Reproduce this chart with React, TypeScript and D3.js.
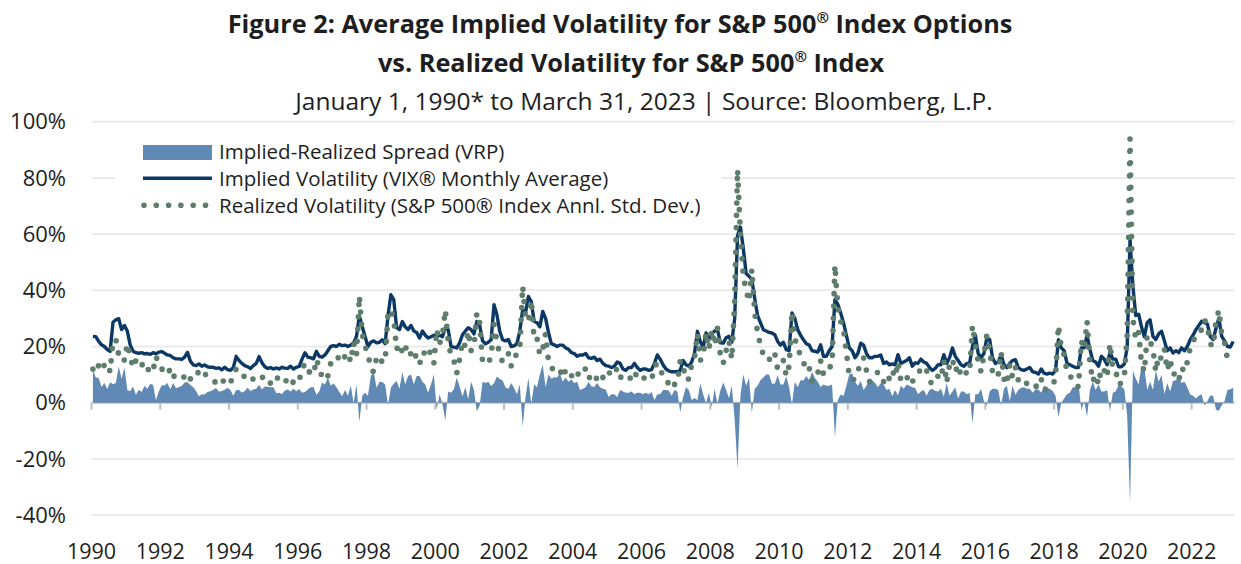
import * as React from "react";
import * as d3 from "d3";

// year labels on the category axis, one every 24 months
const yearLabels = ["1990", "1992", "1994", "1996", "1998", "2000", "2002", "2004", "2006", "2008", "2010", "2012", "2014", "2016", "2018", "2020", "2022"];
const yTicks = [100, 80, 60, 40, 20, 0, -20, -40];

// VIX monthly average, Jan 1990 .. Mar 2023
const implied: number[] = [
  23.6, 23.5, 21.8, 20.6, 20.0, 18.9, 18.3, 28.6, 29.5, 29.9, 26.0, 27.5,
  25.5, 20.6, 18.3, 17.8, 17.6, 17.8, 17.4, 17.5, 17.2, 17.8, 17.4, 18.0,
  18.2, 17.6, 17.0, 16.8, 16.0, 15.6, 15.6, 15.4, 16.2, 17.9, 14.8, 13.5,
  13.2, 13.8, 13.0, 13.4, 12.8, 12.6, 12.6, 12.2, 12.4, 11.7, 12.6, 11.8,
  11.5, 12.5, 16.5, 15.0, 14.0, 13.2, 12.8, 12.2, 13.2, 14.0, 16.4, 14.2,
  12.8, 12.2, 12.5, 12.0, 12.4, 12.0, 12.6, 12.3, 12.2, 13.0, 12.0, 12.6,
  12.9, 15.5, 17.8, 16.2, 16.0, 15.6, 18.3, 16.5, 16.2, 17.0, 18.5, 20.0,
  20.3, 20.0, 20.8, 20.3, 20.5, 20.0, 20.5, 21.3, 23.6, 31.0, 27.0, 23.5,
  20.0, 21.5, 22.0, 21.3, 21.5, 22.4, 21.0, 31.0, 38.4, 36.7, 26.7, 26.0,
  28.9, 27.0, 26.0, 27.5, 25.5, 25.0, 23.0, 25.5, 24.0, 23.0, 23.5, 24.0,
  23.6, 24.0, 23.5, 26.7, 26.0, 20.0, 19.8, 19.5, 21.3, 24.2, 25.5, 26.7,
  26.0, 24.5, 28.9, 27.5, 22.0, 21.0, 21.5, 22.4, 34.9, 31.3, 25.4, 22.4,
  22.0, 22.5, 20.0, 20.2, 21.0, 25.5, 33.0, 32.0, 37.8, 36.0, 29.0, 28.5,
  27.0, 32.5, 30.0, 25.0, 21.0, 20.6, 20.0, 20.5, 20.5, 19.5, 19.0, 17.8,
  17.5, 16.5, 17.0, 17.0, 17.5, 16.0, 15.8, 16.2, 15.0, 15.5, 14.0, 13.2,
  13.0, 12.5, 13.0, 14.5, 14.0, 12.0, 11.5, 12.5, 12.5, 14.0, 12.5, 11.5,
  12.0, 12.0, 11.5, 11.8, 14.0, 17.0, 15.5, 13.5, 12.0, 11.3, 11.0, 11.0,
  11.0, 11.5, 15.0, 13.5, 13.0, 14.5, 17.7, 25.4, 21.8, 19.5, 24.8, 22.5,
  24.5, 25.5, 26.0, 21.3, 21.2, 23.1, 23.6, 21.5, 30.0, 59.5, 62.5, 55.0,
  46.0, 45.0, 43.8, 37.0, 31.0, 28.5, 26.0, 25.5, 25.0, 24.8, 24.2, 21.8,
  20.5, 21.5, 18.9, 18.5, 31.9, 30.0, 26.0, 24.0, 22.4, 21.0, 20.5, 18.5,
  18.3, 18.0, 20.6, 16.5, 16.5, 18.5, 20.0, 36.7, 35.0, 31.9, 28.4, 24.0,
  19.5, 18.5, 16.0, 17.5, 21.2, 20.5, 17.5, 16.0, 16.0, 16.5, 16.5, 17.0,
  14.0, 14.5, 13.5, 13.8, 13.5, 17.1, 14.0, 14.5, 15.0, 16.0, 13.0, 14.2,
  14.0, 15.5, 14.5, 14.0, 12.5, 11.5, 12.2, 13.5, 13.5, 17.1, 14.0, 16.0,
  19.5, 16.5, 15.0, 13.5, 13.0, 14.0, 14.0, 20.0, 24.0, 17.5, 16.0, 17.5,
  23.0, 22.5, 16.0, 14.0, 14.5, 17.0, 13.5, 12.5, 14.0, 15.0, 15.3, 12.5,
  11.8, 11.5, 12.0, 12.5, 11.0, 10.8, 10.2, 12.0, 10.5, 10.2, 10.5, 10.2,
  11.5, 22.4, 19.5, 18.5, 14.0, 13.5, 13.0, 12.5, 12.5, 19.5, 19.5, 24.0,
  19.0, 15.0, 14.5, 13.0, 16.5, 15.5, 13.5, 18.0, 15.5, 15.5, 12.8, 12.8,
  13.8, 19.6, 58.0, 41.5, 31.0, 31.5, 27.0, 23.5, 28.5, 29.5, 23.6, 22.5,
  24.5, 25.4, 22.0, 18.5, 19.5, 17.7, 18.5, 17.8, 19.5, 18.5, 20.0, 22.4,
  24.0, 26.0, 27.5, 29.0, 28.5, 28.0, 23.6, 22.5, 26.5, 30.1, 23.6, 22.0,
  20.0, 19.8, 21.8,
];

// S&P 500 realized volatility (annualized std. dev.), same months
const realized: number[] = [
  12.0, 14.5, 13.0, 15.0, 13.0, 14.0, 11.0, 22.0, 22.5, 17.0, 17.5, 15.0,
  21.0, 16.5, 12.5, 15.0, 13.0, 14.0, 11.5, 12.5, 10.5, 11.5, 16.5, 14.0,
  12.0, 11.5, 10.0, 12.0, 9.0, 10.5, 10.0, 9.5, 9.0, 10.5, 8.5, 8.0,
  9.0, 11.5, 10.0, 10.5, 9.0, 8.5, 8.0, 7.0, 8.5, 7.5, 8.0, 6.5,
  7.0, 10.0, 12.0, 10.5, 10.5, 9.0, 7.5, 8.0, 8.5, 9.0, 10.0, 9.5,
  7.0, 6.5, 7.0, 6.5, 9.0, 8.5, 9.5, 8.0, 7.5, 9.0, 7.0, 8.5,
  8.0, 12.0, 14.0, 11.5, 10.5, 10.0, 15.5, 12.5, 9.0, 10.5, 9.5, 14.0,
  13.5, 14.5, 17.0, 18.0, 16.0, 17.5, 14.5, 21.5, 17.0, 38.0, 24.5, 20.0,
  17.5, 12.0, 11.0, 16.0, 14.0, 15.0, 14.5, 32.0, 33.0, 30.0, 19.0, 21.0,
  18.0, 20.5, 16.5, 17.5, 19.0, 15.5, 13.5, 18.0, 17.5, 19.5, 17.0, 14.0,
  26.0, 21.0, 24.0, 33.0, 22.0, 16.5, 15.0, 10.5, 15.5, 22.0, 20.0, 25.5,
  18.5, 20.0, 32.0, 28.5, 14.5, 14.0, 14.0, 16.5, 28.0, 22.0, 17.0, 14.5,
  16.5, 17.5, 13.0, 15.0, 18.0, 19.0, 41.5, 30.0, 29.0, 36.5, 22.5, 23.0,
  17.0, 19.0, 24.5, 15.0, 12.5, 11.5, 11.0, 10.0, 13.0, 10.5, 11.5, 9.5,
  10.5, 9.0, 12.5, 12.0, 12.0, 8.5, 10.0, 10.5, 8.0, 10.0, 9.0, 8.5,
  11.0, 9.5, 10.0, 12.5, 9.5, 8.0, 8.0, 9.0, 8.5, 11.0, 9.0, 8.0,
  9.0, 8.5, 8.5, 8.0, 13.0, 14.0, 12.5, 9.0, 7.5, 7.0, 8.5, 6.5,
  7.0, 15.0, 13.0, 8.0, 8.5, 13.5, 16.0, 24.5, 15.0, 16.5, 25.0, 19.0,
  26.0, 20.5, 26.5, 17.0, 14.0, 18.5, 22.0, 15.5, 36.0, 83.0, 60.0, 45.0,
  40.0, 36.0, 47.5, 32.0, 25.0, 20.5, 17.0, 15.5, 15.0, 18.0, 17.5, 12.0,
  14.0, 15.0, 9.5, 13.0, 32.5, 22.5, 20.5, 16.0, 14.5, 11.5, 12.5, 7.5,
  9.5, 10.5, 15.0, 10.0, 10.5, 12.5, 13.5, 49.0, 34.0, 29.0, 26.0, 18.0,
  9.5, 8.0, 8.5, 11.5, 13.5, 16.0, 11.5, 7.5, 8.0, 9.5, 11.0, 10.0,
  7.5, 10.0, 8.5, 11.5, 9.0, 14.5, 8.0, 9.5, 8.5, 10.0, 7.5, 9.0,
  11.0, 11.5, 10.0, 11.5, 8.0, 6.5, 8.0, 9.5, 8.5, 15.0, 7.0, 13.5,
  15.5, 11.0, 13.5, 9.5, 9.0, 11.0, 10.5, 27.5, 21.0, 14.5, 11.0, 17.0,
  24.0, 18.5, 11.0, 9.0, 10.0, 18.0, 8.5, 6.5, 13.5, 9.0, 12.5, 8.0,
  6.5, 6.0, 7.0, 7.5, 7.5, 6.0, 5.5, 8.5, 4.5, 5.0, 5.5, 6.0,
  9.0, 27.5, 19.5, 17.0, 11.0, 10.0, 7.5, 7.0, 5.5, 22.0, 19.0, 29.0,
  14.5, 7.5, 10.0, 6.5, 12.5, 11.5, 9.0, 21.0, 12.0, 11.5, 6.5, 7.0,
  9.0, 24.0, 94.0, 30.0, 22.5, 25.0, 14.0, 11.0, 24.0, 22.0, 19.0, 11.0,
  17.0, 15.5, 19.0, 11.5, 15.5, 10.0, 10.5, 8.0, 12.5, 11.0, 14.5, 19.5,
  21.5, 24.5, 25.0, 26.0, 29.5, 27.5, 21.0, 20.0, 29.0, 33.0, 24.5, 21.5,
  15.5, 15.0, 16.5,
];

const spread = implied.map((v, i) => v - realized[i]);

const W = 1241;
const H = 564;
const font = "'Open Sans', 'Noto Sans', sans-serif";
const ink = "#1e1e1e";
const areaColor = "#6089b5";
const lineColor = "#0b3865";
const dotColor = "#5f7d6c";

const x = d3.scaleLinear().domain([0, implied.length]).range([91.5, 1234.6]);
const y = d3.scaleLinear().domain([-40, 100]).range([515.1, 121.7]);

const areaGen = d3
  .area<number>()
  .x((d, i) => x(i + 0.5))
  .y0(y(0))
  .y1(d => y(d));
const lineGen = d3
  .line<number>()
  .x((d, i) => x(i + 0.5))
  .y(d => y(d));

export default function App() {
  const left = x(0);
  const right = x(implied.length);
  return (
    <svg width={W} height={H} style={{ position: "absolute", left: 0, top: 0, background: "#fff" }} fontFamily={font}>
      {/* titles */}
      <text x={620} y={33} textAnchor="middle" fontSize={25.3} fontWeight={700} fill={ink}>
        Figure 2: Average Implied Volatility for S&amp;P 500
        <tspan fontSize={15} dy={-10}>®</tspan>
        <tspan dy={10}> Index Options</tspan>
      </text>
      <text x={631} y={72} textAnchor="middle" fontSize={25.3} fontWeight={700} fill={ink}>
        vs. Realized Volatility for S&amp;P 500
        <tspan fontSize={15} dy={-10}>®</tspan>
        <tspan dy={10}> Index</tspan>
      </text>
      <text x={644} y={110} textAnchor="middle" fontSize={24.5} fill={ink}>
        January 1, 1990* to March 31, 2023 | Source: Bloomberg, L.P.
      </text>

      {/* gridlines */}
      {yTicks.filter(t => t !== 0).map(t => (
        <line key={t} x1={left} x2={right} y1={y(t)} y2={y(t)} stroke="#ebebeb" strokeWidth={2} />
      ))}
      {yTicks.map(t => (
        <text key={"l" + t} x={66} y={y(t)} dy="0.35em" textAnchor="end" fontSize={22} fill={ink}>
          {t + "%"}
        </text>
      ))}

      {/* legend background */}
      <rect x={115} y={132} width={607} height={90} fill="#fff" />

      {/* zero axis + ticks */}
      <line x1={left} x2={right} y1={y(0)} y2={y(0)} stroke="#bfbfbf" strokeWidth={2} />
      {yearLabels.map((lab, k) => (
        <g key={lab}>
          <line x1={x(k * 24)} x2={x(k * 24)} y1={y(0)} y2={y(0) + 7} stroke="#bfbfbf" strokeWidth={2} />
          <text x={x(k * 24)} y={559} textAnchor="middle" fontSize={21.5} fill={ink}>
            {lab}
          </text>
        </g>
      ))}

      {/* series */}
      <path d={areaGen(spread) || ""} fill={areaColor} />
      <path d={lineGen(implied) || ""} fill="none" stroke={lineColor} strokeWidth={3.4} strokeLinejoin="round" />
      <path
        d={lineGen(realized) || ""}
        fill="none"
        stroke={dotColor}
        strokeWidth={5.6}
        strokeLinecap="round"
        strokeDasharray="0 12.3"
      />

      {/* legend */}
      <rect x={143} y={145} width={69} height={15} fill={areaColor} />
      <line x1={143} x2={212} y1={178.3} y2={178.3} stroke={lineColor} strokeWidth={3.4} />
      <line x1={144} x2={212} y1={205.3} y2={205.3} stroke={dotColor} strokeWidth={5.6} strokeLinecap="round" strokeDasharray="0 12.3" />
      <text x={219} y={152} dy="0.35em" fontSize={20.5} fill={ink}>Implied-Realized Spread (VRP)</text>
      <text x={219} y={178.5} dy="0.35em" fontSize={20.5} fill={ink}>Implied Volatility (VIX® Monthly Average)</text>
      <text x={219} y={205.5} dy="0.35em" fontSize={20.5} fill={ink}>Realized Volatility (S&amp;P 500® Index Annl. Std. Dev.)</text>
    </svg>
  );
}
